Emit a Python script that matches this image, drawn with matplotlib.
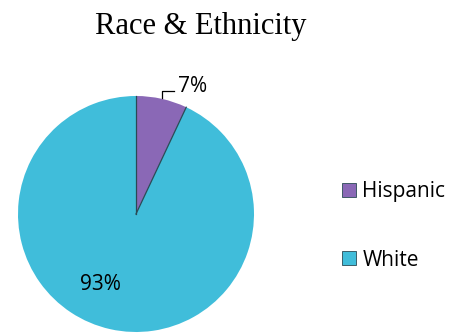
import numpy as np
import matplotlib.pyplot as plt
from matplotlib.patches import Patch

# ---- DATA ----
categories = ["Hispanic", "White"]
shares = [7, 93]
colors = ["#8a68b6", "#40bdda"]
edge = "#2a4a55"
FONT = "Open Sans"

fig = plt.figure(figsize=(4.6, 3.33), dpi=100)
fig.patch.set_facecolor("white")
ax = fig.add_axes([0, 0, 1, 1])

# pie in pixel-like coordinates (y up)
cx, cy, r = 136, 119, 118
wedges, _ = ax.pie(shares, colors=colors, startangle=90, counterclock=False,
                   center=(cx, cy), radius=r,
                   wedgeprops=dict(edgecolor="none"))
# dark divider lines between slices
for w in wedges:
    t = np.deg2rad(w.theta1)
    ax.plot([cx, cx + r * np.cos(t)], [cy, cy + r * np.sin(t)],
            color=edge, lw=0.9)
ax.set_xlim(0, 460)
ax.set_ylim(0, 333)
ax.set_aspect("equal")
ax.axis("off")

# Hispanic label with elbow leader line
w = wedges[0]
mid = np.deg2rad((w.theta1 + w.theta2) / 2)
x0, y0 = cx + r * np.cos(mid), cy + r * np.sin(mid)
ax.plot([x0, x0, x0 + 12], [y0 + 1, y0 + 8, y0 + 8], color="black", lw=0.9)
ax.text(x0 + 16, y0 + 7, f"{shares[0]}%", fontsize=15, family=FONT,
        ha="left", va="baseline")

# White label inside the slice
ax.text(100, 333 - 290, f"{shares[1]}%", fontsize=15, family=FONT,
        ha="center", va="baseline")

ax.text(201, 333 - 34, "Race & Ethnicity", fontsize=22,
        family="Liberation Serif", ha="center", va="baseline")

handles = [Patch(facecolor=c, edgecolor=edge, linewidth=0.6) for c in colors]
leg = ax.legend(handles, categories, loc="center left",
                bbox_to_anchor=(342 / 460, (333 - 226) / 333),
                frameon=False, prop=dict(family=FONT, size=15),
                handlelength=0.67, handleheight=0.62, handletextpad=0.31,
                labelspacing=2.26, borderpad=0, borderaxespad=0)

fig.savefig("out.png", dpi=100)
